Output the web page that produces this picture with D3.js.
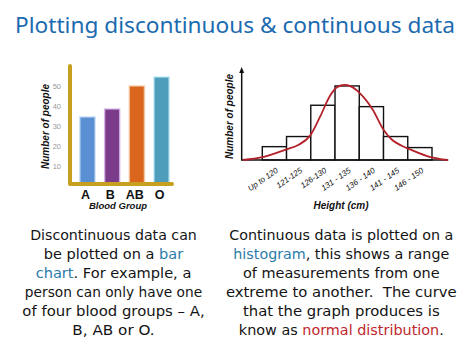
<!DOCTYPE html>
<html><head><meta charset="utf-8">
<script src="https://cdn.jsdelivr.net/npm/d3@7"></script>
<style>html,body{margin:0;padding:0;background:#fff;}svg{display:block;}</style>
</head><body>
<script>
// ---- data ----
const bloodGroups = ["A", "B", "AB", "O"];
const bloodCounts = [34.5, 38.5, 50, 54.5];
const leftTicks = [10, 20, 30, 40, 50];
const heightBins = ["Up to 120", "121-125", "126-130", "131 - 135", "136 - 140", "141 - 145", "146 - 150"];
const binCounts = [2.9, 5.1, 11.9, 16.1, 11.6, 5.1, 2.7];
const curveIdx = [-0.8, 0.0, 0.5, 1.0, 1.5, 1.97, 2.4, 2.8, 3.1, 3.38, 3.65, 4.03, 4.55, 5.0, 5.35, 5.75, 6.1, 6.9, 7.65];
const curveVal = [0, 0.6, 1.4, 2.3, 3.3, 5.3, 9.6, 14.0, 15.9, 16.3, 16.0, 14.5, 11.0, 6.6, 4.4, 3.1, 2.3, 0.7, 0];
const titleText = "Plotting discontinuous & continuous data";
const leftLines = [
  [["Discontinuous data can", 0]],
  [["be plotted on a ", 0], ["bar", 1]],
  [["chart", 1], [". For example, a", 0]],
  [["person can only have one", 0]],
  [["of four blood groups \u2013 A,", 0]],
  [["B, AB or O.", 0]]
];
const rightLines = [
  [["Continuous data is plotted on a", 0]],
  [["histogram", 1], [", this shows a range", 0]],
  [["of measurements from one", 0]],
  [["extreme to another.  The curve", 0]],
  [["that the graph produces is", 0]],
  [["know as ", 0], ["normal distribution", 2], [".", 0]]
];

// ---- layout ----
const W = 474, H = 355;
const svg = d3.select("body").append("svg").attr("width", W).attr("height", H);
const labelFont = "'Liberation Sans', Arial, sans-serif";
const bodyFont = "'DejaVu Sans', sans-serif";
const spanColors = ["#141414", "#2b7ca8", "#c0272d"];

// title
svg.append("text").attr("x", 235).attr("y", 33)
  .attr("text-anchor", "middle")
  .attr("font-family", "'Noto Sans', sans-serif").attr("font-size", 21)
  .attr("fill", "#1c6bb0")
  .attr("textLength", 440).attr("lengthAdjust", "spacingAndGlyphs")
  .text(titleText);

// ---- left: bar chart ----
const xL = d3.scaleBand().domain(bloodGroups).range([75, 174]).paddingInner(0.39).paddingOuter(0.2);
const yL = d3.scaleLinear().domain([0, 60]).range([186, 66]);
const barColors = ["#5b8fd4", "#7b3b8b", "#d9661c", "#4e9dbb"];
const glowColors = ["#b9d3f3", "#d6b3e6", "#f6c6a0", "#b5e3f3"];

const gL = svg.append("g");
gL.selectAll("rect.bar").data(bloodGroups).join("rect")
  .attr("class", "bar")
  .attr("x", d => xL(d)).attr("width", xL.bandwidth())
  .attr("y", (d, i) => yL(bloodCounts[i]))
  .attr("height", (d, i) => yL(0) - 2 - yL(bloodCounts[i]))
  .attr("fill", (d, i) => barColors[i])
  .attr("stroke", (d, i) => glowColors[i]).attr("stroke-width", 1.5).attr("stroke-opacity", 0.8);

const axisY0 = yL(0) - 2;
gL.append("path")
  .attr("d", `M${xL.range()[0] - 5},${yL(60)} L${xL.range()[0] - 5},${axisY0} L${xL.range()[1] - 2},${axisY0}`)
  .attr("fill", "none").attr("stroke", "#c6a01e").attr("stroke-width", 4)
  .attr("stroke-linejoin", "round").attr("stroke-linecap", "round");

gL.selectAll("text.tick").data(leftTicks).join("text")
  .attr("class", "tick")
  .attr("x", 61).attr("y", d => yL(d)).attr("dy", "0.35em")
  .attr("text-anchor", "end").attr("font-family", labelFont).attr("font-size", 7.5)
  .attr("fill", "#9a9a9a").text(d => d);

gL.selectAll("text.cat").data(bloodGroups).join("text")
  .attr("class", "cat")
  .attr("x", d => xL(d) + xL.bandwidth() / 2 - 2).attr("y", 198.5)
  .attr("text-anchor", "middle").attr("font-family", labelFont).attr("font-weight", "bold")
  .attr("font-size", 12.5).attr("fill", "#111").text(d => d);

gL.append("text").attr("x", 118).attr("y", 209)
  .attr("text-anchor", "middle").attr("font-family", labelFont).attr("font-weight", "bold")
  .attr("font-style", "italic").attr("font-size", 9.5).attr("fill", "#111").text("Blood Group");

gL.append("text").attr("transform", "translate(49,126.5) rotate(-90)")
  .attr("text-anchor", "middle").attr("font-family", labelFont).attr("font-weight", "bold")
  .attr("font-style", "italic").attr("font-size", 10).attr("fill", "#111").text("Number of people");

// ---- right: histogram ----
const xR = d3.scaleLinear().domain([0, 7]).range([262.3, 432]);
const yR = d3.scaleLinear().domain([0, 20]).range([160, 68]);
const gR = svg.append("g");

gR.selectAll("rect.bin").data(binCounts).join("rect")
  .attr("class", "bin")
  .attr("x", (d, i) => xR(i)).attr("width", (d, i) => xR(i + 1) - xR(i))
  .attr("y", d => yR(d)).attr("height", d => yR(0) - yR(d))
  .attr("fill", "#fff").attr("stroke", "#111").attr("stroke-width", 1.4);

// axes
gR.append("path")
  .attr("d", `M${xR(-0.85)},${yR(20) + 2} L${xR(-0.85)},${yR(0)} L${xR(7.67)},${yR(0)}`)
  .attr("fill", "none").attr("stroke", "#111").attr("stroke-width", 1.5);
gR.append("path")
  .attr("d", `M${xR(-0.85) - 2.5},${yR(20) + 5} L${xR(-0.85)},${yR(20) - 1} L${xR(-0.85) + 2.5},${yR(20) + 5} Z`)
  .attr("fill", "#111");

// curve
const line = d3.line().x(d => xR(d[0])).y(d => yR(d[1])).curve(d3.curveMonotoneX);
gR.append("path").datum(curveIdx.map((v, i) => [v, curveVal[i]]))
  .attr("d", line).attr("fill", "none").attr("stroke", "#b3212b").attr("stroke-width", 1.8);

// tick labels
gR.selectAll("text.bl").data(heightBins).join("text")
  .attr("class", "bl")
  .attr("transform", (d, i) => `translate(${xR(i + 0.5) + 1},${167}) rotate(-35)`)
  .attr("text-anchor", "end").attr("dy", "0.7em")
  .attr("font-family", labelFont).attr("font-style", "italic").attr("font-size", 8)
  .attr("fill", "#111").text(d => d);

gR.append("text").attr("x", 341).attr("y", 208.5)
  .attr("text-anchor", "middle").attr("font-family", labelFont).attr("font-weight", "bold")
  .attr("font-style", "italic").attr("font-size", 10).attr("fill", "#111").text("Height (cm)");

gR.append("text").attr("transform", "translate(233,116.5) rotate(-90)")
  .attr("text-anchor", "middle").attr("font-family", labelFont).attr("font-weight", "bold")
  .attr("font-style", "italic").attr("font-size", 10).attr("fill", "#111").text("Number of people");

// ---- body text ----
const leftWidths = [166.7, 139.3, 155.7, 177.3, 182.3, 82.3];
const rightWidths = [224, 216, 196.7, 230.7, 196.7, 205];
function para(lines, cx, widths) {
  lines.forEach((segs, i) => {
    const t = svg.append("text").attr("x", cx).attr("y", 240 + 19 * i)
      .attr("text-anchor", "middle").attr("font-family", bodyFont).attr("font-size", 14)
      .attr("textLength", widths[i]).attr("lengthAdjust", "spacingAndGlyphs")
      .attr("xml:space", "preserve").style("white-space", "pre");
    segs.forEach(s => t.append("tspan").attr("fill", spanColors[s[1]]).text(s[0]));
  });
}
para(leftLines, 113.5, leftWidths);
para(rightLines, 341.3, rightWidths);
</script>
</body></html>
